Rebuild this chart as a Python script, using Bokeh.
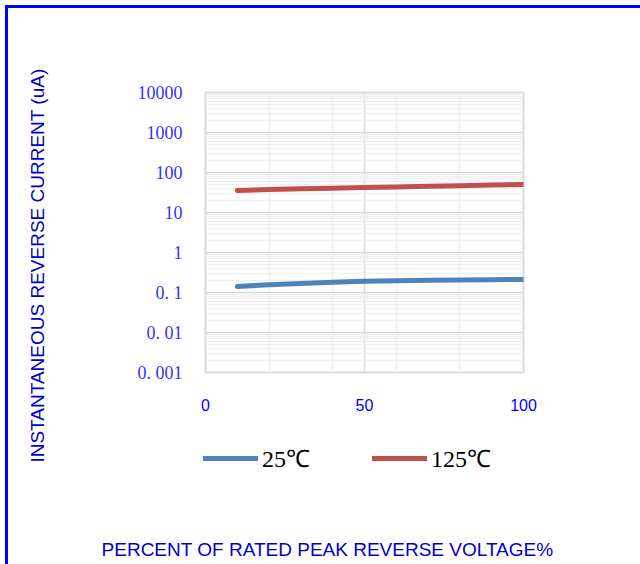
import math
from bokeh.plotting import figure
from bokeh.layouts import row, column
from bokeh.models import (FixedTicker, Legend, LegendItem, Label, Range1d)
from bokeh.embed import file_html
from bokeh.resources import INLINE

# ---- data ----
x_pct = [10, 20, 30, 40, 50, 60, 70, 80, 90, 100]
i_25c = [0.141, 0.156, 0.168, 0.181, 0.192, 0.197, 0.202, 0.205, 0.209, 0.211]
i_125c = [35.5, 37.6, 39, 40.5, 42.2, 43.7, 45.2, 46.8, 48.4, 50]
series_names = ["25℃", "125℃"]
series_colors = ["#4F81BD", "#C0504D"]
y_ticks = [0.001, 0.01, 0.1, 1, 10, 100, 1000, 10000]
y_tick_labels = ["0. 001", "0. 01", "0. 1", "1", "10", "100", "1000", "10000"]
x_ticks = [0, 50, 100]
x_minor = [20, 40, 60, 80]
x_title = "PERCENT OF RATED PEAK REVERSE VOLTAGE%"
y_title = "INSTANTANEOUS REVERSE CURRENT (uA)"

TITLE_COLOR = "#0000CC"
TITLE_SIZE = "19px"

# ---- y-title strip ----
WY, H = 60, 556
py = figure(width=WY, height=H, output_backend="svg", toolbar_location=None,
            x_range=Range1d(0, WY), y_range=Range1d(0, H),
            x_axis_location=None, y_axis_location=None, min_border=0)
py.grid.visible = False
py.outline_line_color = None
py.add_layout(Label(x=29, y=H - 257, text=y_title, angle=math.pi / 2,
                    text_align="center", text_baseline="middle",
                    text_font="Liberation Sans", text_font_size=TITLE_SIZE,
                    text_color=TITLE_COLOR))

# ---- main chart ----
W1, H1 = 572, 407
p = figure(width=W1, height=H1, output_backend="svg", toolbar_location=None,
           y_axis_type="log", x_range=Range1d(0, 100), y_range=Range1d(0.001, 10000),
           min_border_left=137, min_border_right=117, min_border_top=84, min_border_bottom=43)
p.background_fill_color = "white"
p.border_fill_color = "white"
p.outline_line_color = "#D9D9D9"
p.outline_line_width = 2

p.xaxis.ticker = FixedTicker(ticks=x_ticks)
p.yaxis.ticker = FixedTicker(ticks=y_ticks)
p.yaxis.major_label_overrides = {t: l for t, l in zip(y_ticks, y_tick_labels)}
for ax in (p.xaxis, p.yaxis):
    ax.axis_line_color = None
    ax.major_tick_line_color = None
    ax.minor_tick_line_color = None
p.xaxis.major_label_text_font = "Liberation Sans"
p.xaxis.major_label_text_font_size = "16px"
p.xaxis.major_label_text_color = "#0000FF"
p.xaxis.major_label_standoff = 20
p.yaxis.major_label_text_font = "Liberation Serif"
p.yaxis.major_label_text_font_size = "18px"
p.yaxis.major_label_text_color = "#3333FF"
p.yaxis.major_label_standoff = 17

minor_y = [m * 10 ** e for e in range(-3, 4) for m in range(2, 10)]
p.ygrid.ticker = FixedTicker(ticks=y_ticks, minor_ticks=minor_y)
p.ygrid.grid_line_color = "#D9D9D9"
p.ygrid.grid_line_width = 1.5
p.ygrid.minor_grid_line_color = "#F0F0F0"
p.ygrid.minor_grid_line_width = 1.5
p.xgrid.ticker = FixedTicker(ticks=x_ticks, minor_ticks=x_minor)
p.xgrid.grid_line_color = "#D9D9D9"
p.xgrid.grid_line_width = 1.5
p.xgrid.minor_grid_line_color = "#F0F0F0"
p.xgrid.minor_grid_line_width = 2

p.line(x_pct, i_25c, line_color=series_colors[0], line_width=5, line_cap="round", line_join="round")
p.line(x_pct, i_125c, line_color=series_colors[1], line_width=5, line_cap="round", line_join="round")

# ---- legend + x-title strip ----
H2 = H - H1
p2 = figure(width=W1, height=H2, output_backend="svg", toolbar_location=None,
            x_range=Range1d(0, W1), y_range=Range1d(0, H2),
            x_axis_location=None, y_axis_location=None, min_border=0)
p2.grid.visible = False
p2.outline_line_color = None
# legend proxies: one undefined (NaN) point each, so nothing is drawn in the strip
lr = [p2.line([0], [float("nan")], line_color=c, line_width=5, line_cap="round")
      for c in series_colors]
legend = Legend(items=[LegendItem(label=n, renderers=[r]) for n, r in zip(series_names, lr)],
                orientation="horizontal", location=(135, 90),
                glyph_width=55, glyph_height=20, label_standoff=4, spacing=62,
                padding=0, margin=0, border_line_color=None, background_fill_alpha=0,
                label_text_font="Liberation Serif", label_text_font_size="24px",
                label_text_color="#000000")
p2.add_layout(legend, "center")
p2.add_layout(Label(x=259, y=15, text=x_title, text_align="center", text_baseline="middle",
                    text_font="Liberation Sans", text_font_size=TITLE_SIZE,
                    text_color=TITLE_COLOR))

layout = row(py, column(p, row(p2)))
layout.styles = {"margin-left": "5px", "margin-top": "5px",
                 "border-left": "3px solid #0000FF", "border-top": "3px solid #0000FF"}

open("out.html", "w").write(file_html(layout, INLINE))
